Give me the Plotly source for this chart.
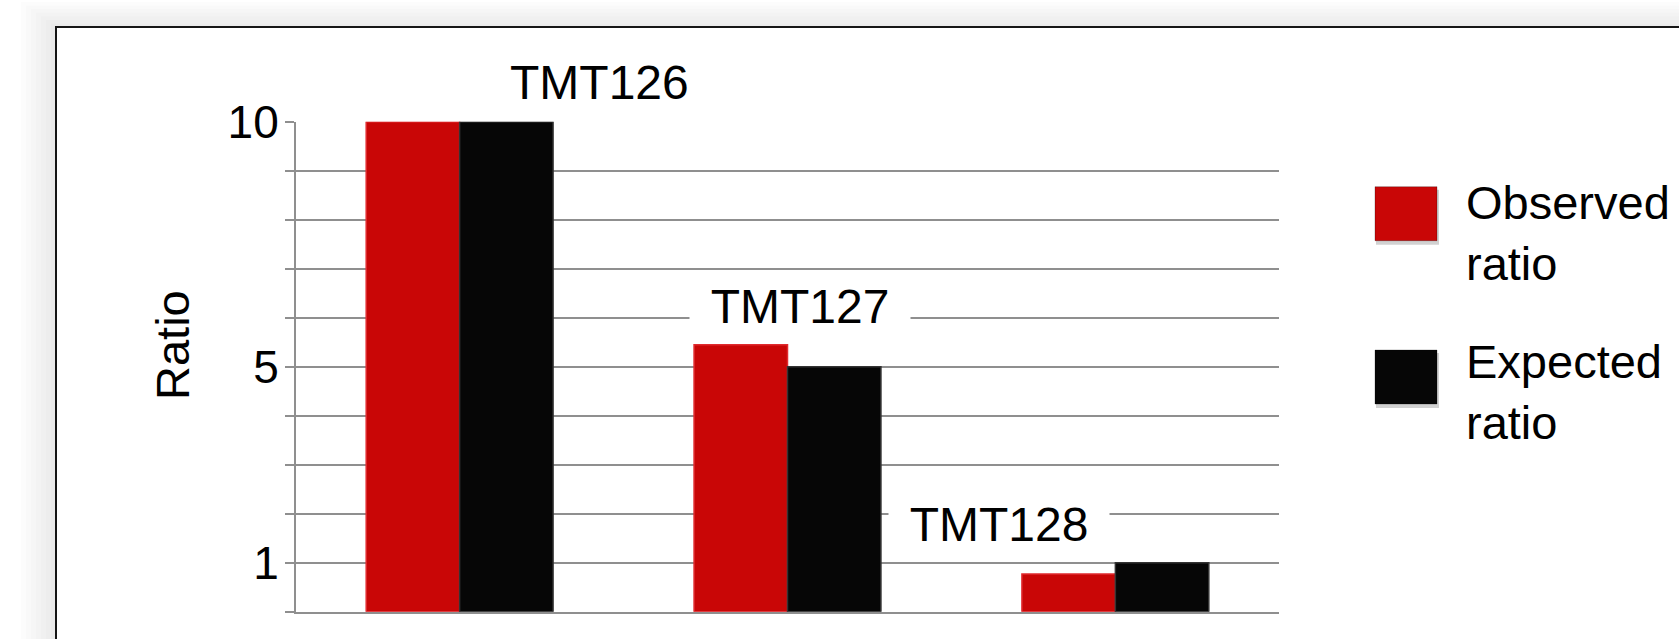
import plotly.graph_objects as go

# ---- data ----
categories = ["TMT126", "TMT127", "TMT128"]
series_names = ["Observed ratio", "Expected ratio"]
observed = [10.0, 5.45, 0.77]
expected = [10.0, 5.0, 1.0]
tick_values = [0, 1, 2, 3, 4, 5, 6, 7, 8, 9, 10]
tick_labels = ["", "1", "", "", "", "5", "", "", "", "", "10"]
y_title = "Ratio"

# ---- styling / layout helpers ----
W, H = 1679, 639
FONT = "Liberation Sans, Arial, sans-serif"
RED = "#c90606"
BLACK = "#060606"
GRID = "#8f8f8f"


def px(x):
    return x / W


def py(y):
    return 1 - y / H


fig = go.Figure()
fig.add_trace(go.Bar(
    x=categories, y=observed, name=series_names[0],
    marker=dict(color=RED, line=dict(color="#e02a2e", width=1.5)),
    showlegend=False,
))
fig.add_trace(go.Bar(
    x=categories, y=expected, name=series_names[1],
    marker=dict(color=BLACK, line=dict(color="#333333", width=1.5)),
    showlegend=False,
))

shapes = []
# soft shadow around the frame
for k in range(7, 0, -1):
    shapes.append(dict(
        type="rect", xref="paper", yref="paper", layer="below",
        x0=px(56 - 5 * k), x1=1.1, y0=-0.1, y1=py(27 - 3.6 * k),
        line=dict(width=0), fillcolor="rgba(0,0,0,0.011)",
    ))
# frame
shapes.append(dict(
    type="rect", xref="paper", yref="paper", layer="below",
    x0=px(56), x1=1.1, y0=-0.1, y1=py(27),
    line=dict(color="#151515", width=2), fillcolor="white",
))

# manual legend
legend_items = [
    (series_names[0], RED, 186.7, 233.0),
    (series_names[1], BLACK, 350.0, 392.0),
]
annotations = []
for name, color, top, text_center in legend_items:
    shapes.append(dict(
        type="rect", xref="paper", yref="paper",
        x0=px(1376), x1=px(1439), y0=py(top + 58), y1=py(top + 3),
        line=dict(width=0), fillcolor="rgba(0,0,0,0.18)",
    ))
    shapes.append(dict(
        type="rect", xref="paper", yref="paper",
        x0=px(1375), x1=px(1437), y0=py(top + 54), y1=py(top),
        line=dict(color="rgba(0,0,0,0.25)", width=1), fillcolor=color,
    ))
    annotations.append(dict(
        xref="paper", yref="paper", x=px(1464), y=py(text_center),
        xanchor="left", yanchor="middle", align="left", showarrow=False,
        text=name.replace(" ", "<br>"),
        font=dict(family=FONT, size=47, color="black"),
    ))

# category labels inside the chart (x in category units, y in page pixels)
label_pos = [(0.428, 82.5, False), (1.037, 306.5, True), (1.645, 523.9, True)]
for cat, (lx, ly, box) in zip(categories, label_pos):
    a = dict(
        xref="x", yref="paper", x=lx, y=py(ly), xanchor="center", yanchor="middle",
        showarrow=False, text=cat, font=dict(family=FONT, size=48, color="black"),
    )
    if box:
        a.update(bgcolor="white", width=220, height=58, borderpad=0)
    annotations.append(a)

# y axis title
annotations.append(dict(
    xref="paper", yref="paper", x=px(172), y=py(345),
    xanchor="center", yanchor="middle", showarrow=False, textangle=-90,
    text=y_title, font=dict(family=FONT, size=47, color="black"),
))

fig.update_layout(
    width=W, height=H,
    margin=dict(l=0, r=0, t=0, b=0, autoexpand=False),
    paper_bgcolor="white", plot_bgcolor="rgba(0,0,0,0)",
    barmode="group", bargap=0.43, bargroupgap=0,
    font=dict(family=FONT, color="black"),
    shapes=shapes, annotations=annotations,
    xaxis=dict(
        domain=[px(295.7), px(1279.3)], range=[-0.5, 2.5], type="category",
        showticklabels=False, ticks="", showgrid=False, automargin=False,
        showline=True, linecolor=GRID, linewidth=1.5, zeroline=False,
    ),
    yaxis=dict(
        domain=[py(611.7), py(121.7)], range=[0, 10], automargin=False,
        tickvals=tick_values, ticktext=tick_labels,
        ticks="outside", ticklen=9, tickcolor=GRID, tickwidth=1.5,
        ticklabelstandoff=-3,
        tickfont=dict(family=FONT, size=46, color="black"),
        showgrid=True, gridcolor=GRID, gridwidth=1.5,
        showline=True, linecolor=GRID, linewidth=1.5, zeroline=False,
    ),
)

fig.write_html("out.html")
